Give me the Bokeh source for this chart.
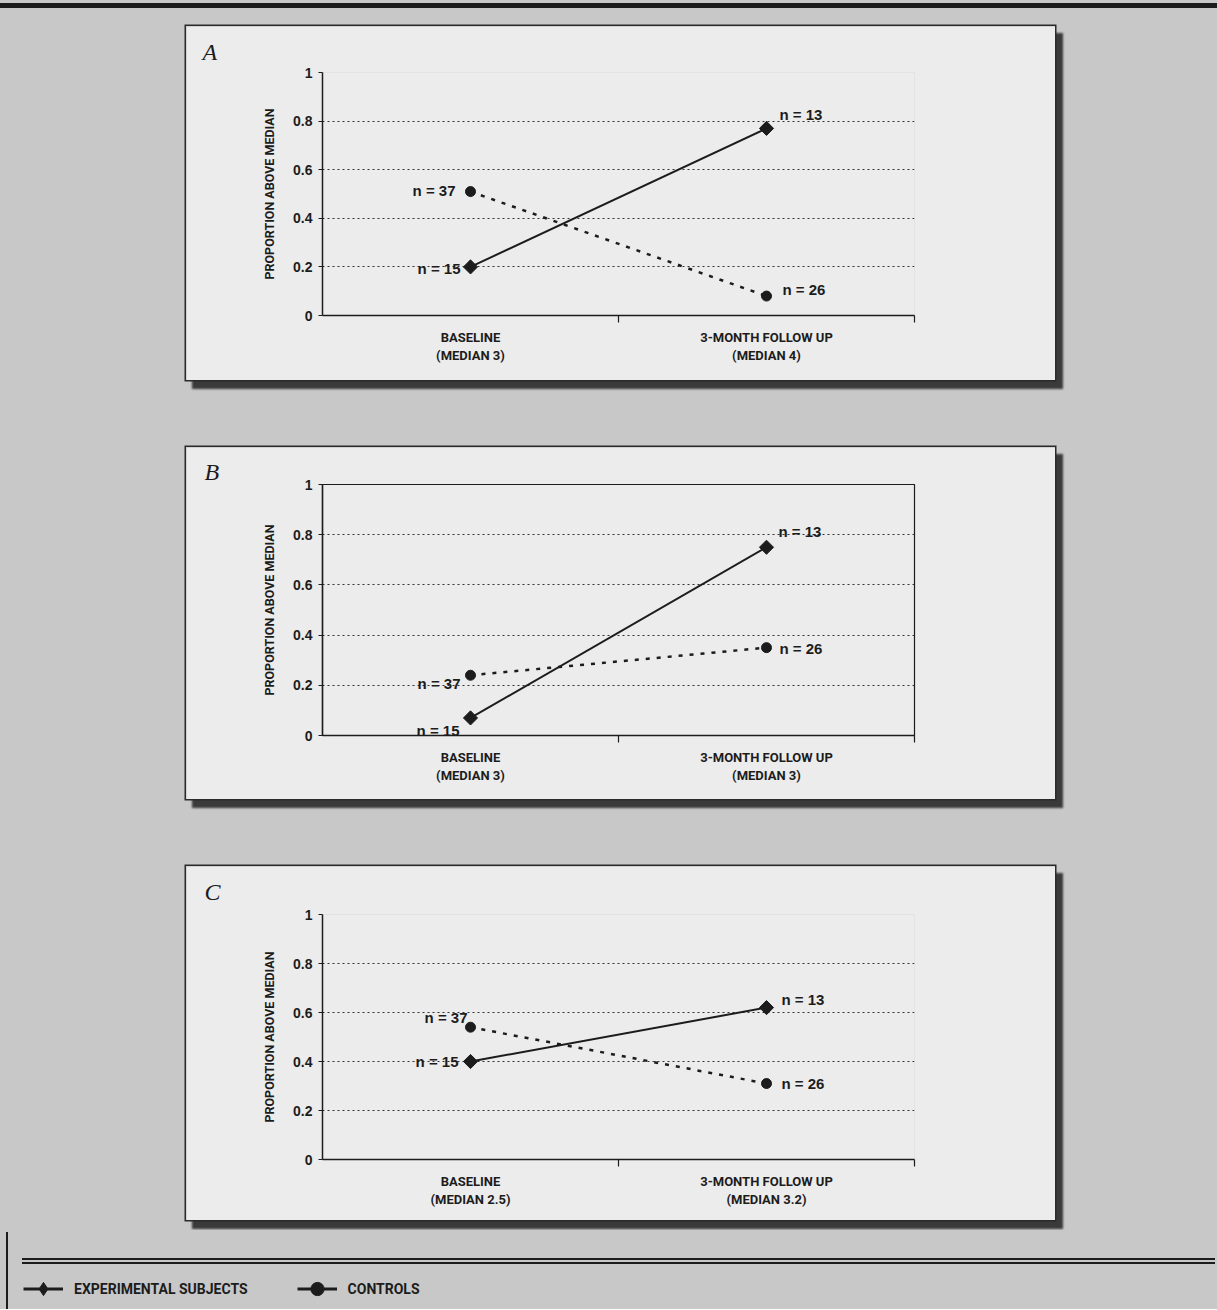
import numpy as np
from bokeh.plotting import figure
from bokeh.models import (Range1d, FixedTicker, ColumnDataSource, Legend, LegendItem,
                          NumeralTickFormatter, CustomJSTickFormatter)
from bokeh.layouts import column
from bokeh.embed import file_html
from bokeh.resources import INLINE
from bokeh.core.properties import value

# ---------------- data ----------------
panel_letters = ["A", "B", "C"]
timepoints = ["BASELINE", "3-MONTH FOLLOW UP"]
medians_A = ["3", "4"]
medians_B = ["3", "3"]
medians_C = ["2.5", "3.2"]
experimental_A = [0.20, 0.77]
controls_A = [0.51, 0.08]
experimental_B = [0.07, 0.75]
controls_B = [0.24, 0.35]
experimental_C = [0.40, 0.62]
controls_C = [0.54, 0.31]
n_experimental = [15, 13]
n_controls = [37, 26]
y_ticks = [0, 0.2, 0.4, 0.6, 0.8, 1]
series_names = ["EXPERIMENTAL SUBJECTS", "CONTROLS"]
y_axis_title = "PROPORTION ABOVE MEDIAN"

# ---------------- styles ----------------
PAGE_BG = "#c8c8c8"
BOX_BG = "#ececec"
INK = "#1c1c1c"
CAPS_FONT = "Roboto"
NUM_FONT = "Liberation Sans"
TITLE_FONT = "Liberation Serif"
PAGE_W = 1217
BOX_W = 869
LEFT_GAP = 186
BORDER_L = 136
BORDER_R = 141

# per panel: box height, gap above/below, top/bottom borders, letter offset/standoff,
# frame outline, label offsets (dx,dy) for [exp, ctl]
panel_style = {
    "A": dict(height=354, gap=26, after=0, top=46, bottom=65, t_offset=-120, t_standoff=15,
              outline=False, base_off=[(-10, 2), (-15, -1)], follow_off=[(13, -14), (16, -7)]),
    "B": dict(height=352, gap=67, after=0, top=37, bottom=64, t_offset=-118, t_standoff=0,
              outline=True, base_off=[(-11, 13), (-10, 8)], follow_off=[(12, -16), (13, 1)]),
    "C": dict(height=354, gap=67, after=10, top=48, bottom=61, t_offset=-118, t_standoff=20,
              outline=False, base_off=[(-12, 0), (-3, -10)], follow_off=[(15, -8), (15, 0)]),
}

panel_data = {
    "A": (experimental_A, controls_A, medians_A),
    "B": (experimental_B, controls_B, medians_B),
    "C": (experimental_C, controls_C, medians_C),
}

x_pos = list(np.arange(len(timepoints)) + 0.5)


def make_panel(letter):
    exp, ctl, med = panel_data[letter]
    st = panel_style[letter]
    p = figure(width=BOX_W, height=st["height"], output_backend="svg", toolbar_location=None,
               x_range=Range1d(0, len(timepoints)), y_range=Range1d(0, 1),
               min_border_top=st["top"], min_border_right=BORDER_R,
               min_border_bottom=st["bottom"], min_border_left=BORDER_L,
               background_fill_color=BOX_BG, border_fill_color=BOX_BG, title=letter)
    p.margin = (st["gap"], 0, st["after"], LEFT_GAP)
    p.styles = {"box-shadow": "0 0 0 1.5px #2a2a2a, 7px 8px 2px 1px #3a3a3a"}
    p.outline_line_color = INK if st["outline"] else None
    p.outline_line_width = 1.2

    p.title.text_font = TITLE_FONT
    p.title.text_font_style = "italic"
    p.title.text_font_size = "24px"
    p.title.text_color = INK
    p.title.align = "left"
    p.title.offset = st["t_offset"]
    p.title.standoff = st["t_standoff"]

    # grid
    p.xgrid.visible = False
    p.ygrid.ticker = FixedTicker(ticks=y_ticks)
    p.ygrid.grid_line_color = "#333333"
    p.ygrid.grid_line_dash = "2 3"
    p.ygrid.grid_line_width = 1

    # y axis
    p.yaxis.ticker = FixedTicker(ticks=y_ticks)
    p.yaxis.formatter = NumeralTickFormatter(format="0.[0]")
    p.yaxis.axis_line_color = INK
    p.yaxis.axis_line_width = 1.5
    p.yaxis.major_tick_line_color = INK
    p.yaxis.major_tick_out = 4
    p.yaxis.major_tick_in = 0
    p.yaxis.minor_tick_line_color = None
    p.yaxis.major_label_standoff = 6
    p.yaxis.major_label_text_font = NUM_FONT
    p.yaxis.major_label_text_font_style = "bold"
    p.yaxis.major_label_text_font_size = "14px"
    p.yaxis.major_label_text_color = INK
    p.yaxis.axis_label = y_axis_title
    p.yaxis.axis_label_text_font = CAPS_FONT
    p.yaxis.axis_label_text_font_style = "bold"
    p.yaxis.axis_label_text_font_size = "12.5px"
    p.yaxis.axis_label_text_color = INK
    p.yaxis.axis_label_standoff = 13

    # x axis: labels centred in each category, ticks at the boundaries
    x_labels = [f"{tp}\n(MEDIAN {m})" for tp, m in zip(timepoints, med)]
    p.xaxis.ticker = FixedTicker(ticks=x_pos, minor_ticks=list(range(1, len(timepoints) + 1)))
    p.xaxis.formatter = CustomJSTickFormatter(
        args=dict(labels=x_labels),
        code="const i = Math.floor(tick); return (i >= 0 && i < labels.length) ? labels[i] : '';")
    p.xaxis.axis_line_color = INK
    p.xaxis.axis_line_width = 1.5
    p.xaxis.major_tick_line_color = None
    p.xaxis.major_tick_out = 0
    p.xaxis.major_tick_in = 0
    p.xaxis.minor_tick_line_color = INK
    p.xaxis.minor_tick_line_width = 1.2
    p.xaxis.minor_tick_out = 7
    p.xaxis.minor_tick_in = 0
    p.xaxis.major_label_standoff = 7
    p.xaxis.major_label_text_font = CAPS_FONT
    p.xaxis.major_label_text_font_style = "bold"
    p.xaxis.major_label_text_font_size = "13px"
    p.xaxis.major_label_text_color = INK
    p.xaxis.major_label_text_align = "center"

    # series
    p.line(x_pos, ctl, line_color=INK, line_width=2.5, line_dash="4 7")
    p.line(x_pos, exp, line_color=INK, line_width=2)
    p.scatter(x_pos, ctl, marker="circle", size=10, color=INK)
    p.scatter(x_pos, exp, marker="square", angle=np.pi / 4, size=10, color=INK)

    # n labels
    base_src = ColumnDataSource(dict(
        x=[x_pos[0], x_pos[0]], y=[exp[0], ctl[0]],
        text=[f"n = {n_experimental[0]}", f"n = {n_controls[0]}"],
        dx=[o[0] for o in st["base_off"]], dy=[o[1] for o in st["base_off"]]))
    follow_src = ColumnDataSource(dict(
        x=[x_pos[1], x_pos[1]], y=[exp[1], ctl[1]],
        text=[f"n = {n_experimental[1]}", f"n = {n_controls[1]}"],
        dx=[o[0] for o in st["follow_off"]], dy=[o[1] for o in st["follow_off"]]))
    for src, align in ((base_src, "right"), (follow_src, "left")):
        p.text("x", "y", text="text", source=src, x_offset="dx", y_offset="dy",
               text_align=align, text_baseline="middle",
               text_font=value(NUM_FONT), text_font_style="bold",
               text_font_size="15px", text_color=INK)
    return p


panels = [make_panel(k) for k in panel_letters]

# page background: grey paper with the heavy top rule
page_styles = {
    "background-color": PAGE_BG,
    "background-image": "linear-gradient(#1c1c1c, #1c1c1c)",
    "background-size": "1217px 5px",
    "background-position": "0px 3px",
    "background-repeat": "no-repeat",
}
page = column(*panels, spacing=0, width=PAGE_W, styles=page_styles)

# ---------------- key strip (separate root, full-width frame) ----------------
LEG_H = 79
leg = figure(width=PAGE_W, height=LEG_H, output_backend="svg", toolbar_location=None,
             x_range=Range1d(0, 1), y_range=Range1d(0, 1),
             min_border_top=0, min_border_bottom=0, min_border_left=0, min_border_right=0,
             background_fill_color=None, border_fill_color=None)
leg.axis.visible = False
leg.grid.visible = False
leg.outline_line_color = None
leg.styles = {
    "background-color": PAGE_BG,
    "background-image": ", ".join(["linear-gradient(#1c1c1c, #1c1c1c)"] * 3),
    "background-size": "1193px 2px, 1193px 2px, 2px 80px",
    "background-position": "22px 28px, 22px 32px, 6px 2px",
    "background-repeat": "no-repeat",
}

dummy = ColumnDataSource(dict(x=[np.nan], y=[np.nan]))
r_el = leg.line("x", "y", source=dummy, line_color=INK, line_width=3)
r_em = leg.scatter("x", "y", source=dummy, marker="diamond", size=14, color=INK)
r_cl = leg.line("x", "y", source=dummy, line_color=INK, line_width=3)
r_cm = leg.scatter("x", "y", source=dummy, marker="circle", size=11, color=INK)
legend = Legend(items=[LegendItem(label=series_names[0], renderers=[r_el, r_em]),
                       LegendItem(label=series_names[1], renderers=[r_cl, r_cm])],
                orientation="horizontal", location=(23, 4),
                glyph_width=40, glyph_height=33, label_height=33, label_standoff=11,
                spacing=49, padding=0, margin=0, border_line_color=None,
                background_fill_alpha=0, label_text_font=CAPS_FONT,
                label_text_font_style="bold", label_text_font_size="14px",
                label_text_color=INK)
leg.add_layout(legend)

open("out.html", "w").write(file_html([page, leg], INLINE))
